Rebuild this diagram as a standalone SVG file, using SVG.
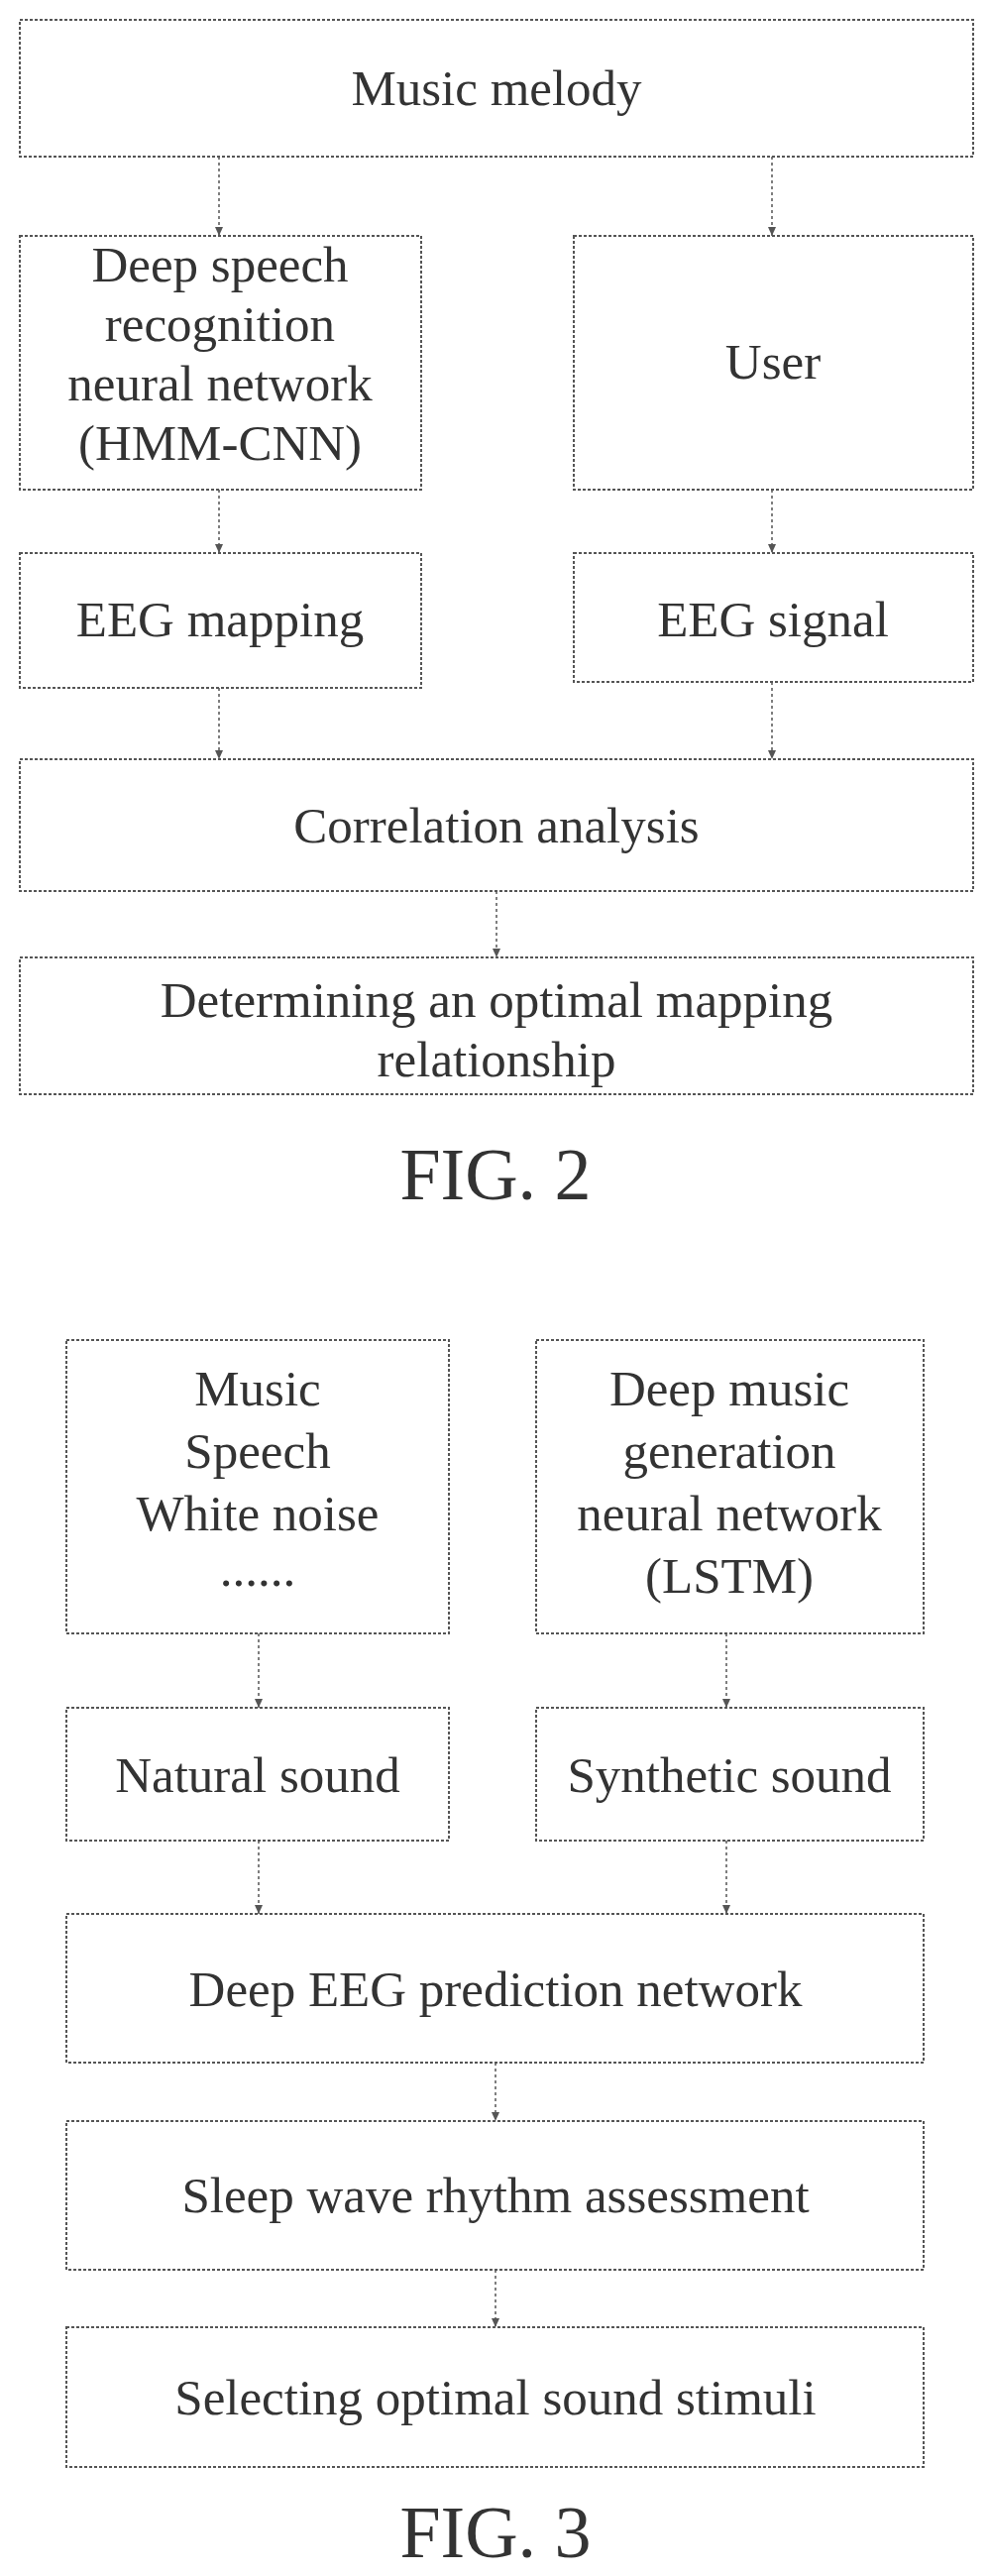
<svg xmlns="http://www.w3.org/2000/svg" width="999" height="2599" viewBox="0 0 999 2599">
<style>
.b{fill:#fff;stroke:#555;stroke-width:2;stroke-dasharray:3 2}
.t{font-family:"Liberation Serif",serif;font-size:51px;fill:#333;text-anchor:middle}
.f{font-family:"Liberation Serif",serif;font-size:74px;fill:#333;text-anchor:middle}
.c{stroke:#555;stroke-width:1.5;stroke-dasharray:3 3;fill:none;marker-end:url(#a)}
</style>
<defs><marker id="a" markerWidth="10" markerHeight="10" refX="9" refY="5" orient="auto" markerUnits="userSpaceOnUse"><path d="M0,1 L9,5 L0,9 Z" fill="#555"/></marker></defs>
<rect width="999" height="2599" fill="#fff"/>
<g id="n1"><rect class="b" x="20" y="20" width="962" height="138"/><text class="t" x="501" y="106">Music melody</text></g>
<g id="n2"><rect class="b" x="20" y="238" width="405" height="256"/><text class="t" x="222" y="284">Deep speech</text><text class="t" x="222" y="344">recognition</text><text class="t" x="222" y="404">neural network</text><text class="t" x="222" y="464">(HMM-CNN)</text></g>
<g id="n3"><rect class="b" x="579" y="238" width="403" height="256"/><text class="t" x="780" y="382">User</text></g>
<g id="n4"><rect class="b" x="20" y="558" width="405" height="136"/><text class="t" x="222" y="642">EEG mapping</text></g>
<g id="n5"><rect class="b" x="579" y="558" width="403" height="130"/><text class="t" x="780" y="642">EEG signal</text></g>
<g id="n6"><rect class="b" x="20" y="766" width="962" height="133"/><text class="t" x="501" y="850">Correlation analysis</text></g>
<g id="n7"><rect class="b" x="20" y="966" width="962" height="138"/><text class="t" x="501" y="1026">Determining an optimal mapping</text><text class="t" x="501" y="1086">relationship</text></g>
<text class="f" x="500" y="1210">FIG. 2</text>
<g id="m1"><rect class="b" x="67" y="1352" width="386" height="296"/><text class="t" x="260" y="1418">Music</text><text class="t" x="260" y="1481">Speech</text><text class="t" x="260" y="1544">White noise</text><text class="t" x="260" y="1600">......</text></g>
<g id="m2"><rect class="b" x="541" y="1352" width="391" height="296"/><text class="t" x="736" y="1418">Deep music</text><text class="t" x="736" y="1481">generation</text><text class="t" x="736" y="1544">neural network</text><text class="t" x="736" y="1607">(LSTM)</text></g>
<g id="m3"><rect class="b" x="67" y="1723" width="386" height="134"/><text class="t" x="260" y="1808">Natural sound</text></g>
<g id="m4"><rect class="b" x="541" y="1723" width="391" height="134"/><text class="t" x="736" y="1808">Synthetic sound</text></g>
<g id="m5"><rect class="b" x="67" y="1931" width="865" height="150"/><text class="t" x="500" y="2024">Deep EEG prediction network</text></g>
<g id="m6"><rect class="b" x="67" y="2140" width="865" height="150"/><text class="t" x="500" y="2232">Sleep wave rhythm assessment</text></g>
<g id="m7"><rect class="b" x="67" y="2348" width="865" height="141"/><text class="t" x="500" y="2436">Selecting optimal sound stimuli</text></g>
<text class="f" x="500" y="2580">FIG. 3</text>
<g id="connectors">
<path class="c" d="M221,158 V238"/><path class="c" d="M779,158 V238"/>
<path class="c" d="M221,494 V558"/><path class="c" d="M779,494 V558"/>
<path class="c" d="M221,694 V766"/><path class="c" d="M779,688 V766"/>
<path class="c" d="M501,899 V966"/>
<path class="c" d="M261,1648 V1723"/><path class="c" d="M733,1648 V1723"/>
<path class="c" d="M261,1857 V1931"/><path class="c" d="M733,1857 V1931"/>
<path class="c" d="M500,2081 V2140"/><path class="c" d="M500,2290 V2348"/>
</g>
</svg>
